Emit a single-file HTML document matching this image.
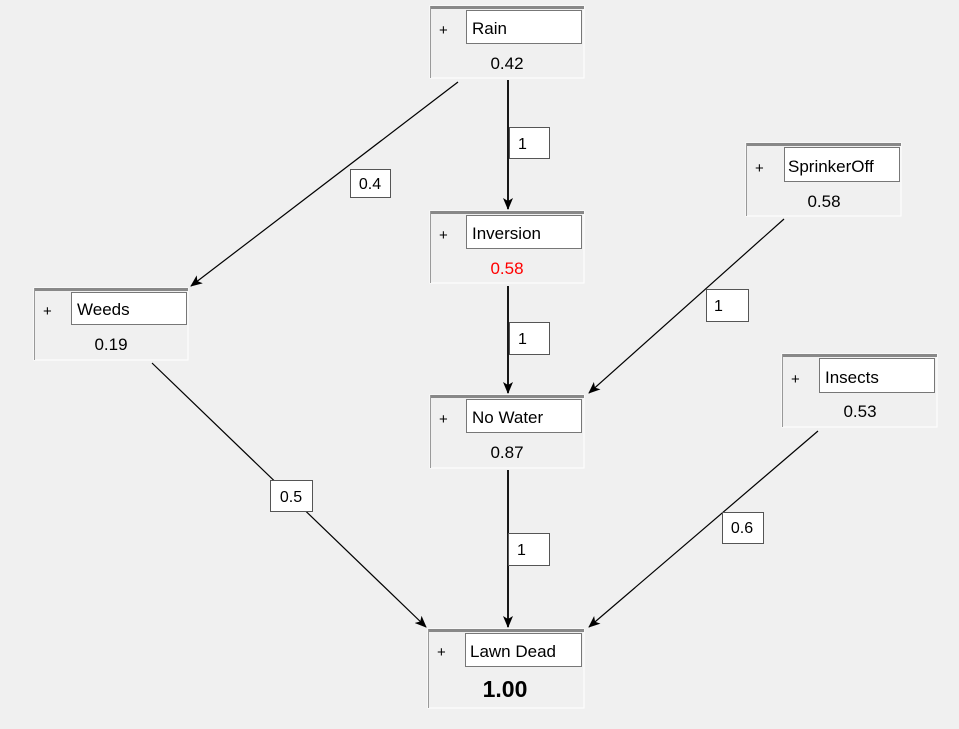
<!DOCTYPE html>
<html><head><meta charset="utf-8"><style>
html,body{margin:0;padding:0;background:#f0f0f0;}
svg{display:block;font-family:"Liberation Sans",sans-serif;}
</style></head><body>
<svg width="959" height="729" viewBox="0 0 959 729" xmlns="http://www.w3.org/2000/svg">
<defs>
<marker id="a" markerWidth="12" markerHeight="10" refX="11" refY="5" orient="auto" markerUnits="userSpaceOnUse">
<path d="M0,0 L12,5 L0,10 L3,5 Z" fill="#000"/>
</marker>
</defs>
<rect width="959" height="729" fill="#f0f0f0"/>
<g stroke="#000" stroke-width="1.2" fill="none" marker-end="url(#a)">
<line x1="458" y1="82" x2="191" y2="286"/>
<line x1="508" y1="80" x2="508" y2="209" stroke-width="1.8"/>
<line x1="508" y1="286" x2="508" y2="393" stroke-width="1.8"/>
<line x1="784" y1="219" x2="589" y2="393"/>
<line x1="152" y1="363" x2="426" y2="627"/>
<line x1="508" y1="470" x2="508" y2="627" stroke-width="1.8"/>
<line x1="818" y1="431" x2="589" y2="627"/>
</g>
<g font-size="16" fill="#000">
<rect x="350.5" y="169.5" width="40" height="28" fill="#fff" stroke="#555"/><text x="370" y="189" text-anchor="middle">0.4</text>
<rect x="509.5" y="127.5" width="40" height="31" fill="#fff" stroke="#555"/><text x="518" y="149">1</text>
<rect x="509.5" y="322.5" width="40" height="32" fill="#fff" stroke="#555"/><text x="518" y="344">1</text>
<rect x="706.5" y="289.5" width="42" height="32" fill="#fff" stroke="#555"/><text x="714" y="311">1</text>
<rect x="270.5" y="480.5" width="42" height="31" fill="#fff" stroke="#555"/><text x="291" y="502" text-anchor="middle">0.5</text>
<rect x="508.5" y="533.5" width="41" height="32" fill="#fff" stroke="#555"/><text x="517" y="555">1</text>
<rect x="722.5" y="512.5" width="41" height="31" fill="#fff" stroke="#555"/><text x="742" y="533" text-anchor="middle">0.6</text>
</g>
<g font-size="17">
<!-- node template -->
<g transform="translate(430,6)">
<rect x="0" y="0" width="154" height="72" fill="#f0f0f0" stroke="#fff"/>
<line x1="0" y1="1.5" x2="154" y2="1.5" stroke="#888" stroke-width="3"/>
<line x1="0.5" y1="0" x2="0.5" y2="72" stroke="#999"/>
<text x="9" y="29" font-size="15">+</text>
<rect x="36.5" y="4.5" width="115" height="33" fill="#fff" stroke="#777"/>
<text x="42" y="28">Rain</text>
<text x="77" y="63" text-anchor="middle">0.42</text>
</g>
<g transform="translate(430,211)">
<rect x="0" y="0" width="154" height="72" fill="#f0f0f0" stroke="#fff"/>
<line x1="0" y1="1.5" x2="154" y2="1.5" stroke="#888" stroke-width="3"/>
<line x1="0.5" y1="0" x2="0.5" y2="72" stroke="#999"/>
<text x="9" y="29" font-size="15">+</text>
<rect x="36.5" y="4.5" width="115" height="33" fill="#fff" stroke="#777"/>
<text x="42" y="28">Inversion</text>
<text x="77" y="63" text-anchor="middle" fill="#f00">0.58</text>
</g>
<g transform="translate(430,395)">
<rect x="0" y="0" width="154" height="73" fill="#f0f0f0" stroke="#fff"/>
<line x1="0" y1="1.5" x2="154" y2="1.5" stroke="#888" stroke-width="3"/>
<line x1="0.5" y1="0" x2="0.5" y2="73" stroke="#999"/>
<text x="9" y="29" font-size="15">+</text>
<rect x="36.5" y="4.5" width="115" height="33" fill="#fff" stroke="#777"/>
<text x="42" y="28">No Water</text>
<text x="77" y="63" text-anchor="middle">0.87</text>
</g>
<g transform="translate(34,288)">
<rect x="0" y="0" width="154" height="72" fill="#f0f0f0" stroke="#fff"/>
<line x1="0" y1="1.5" x2="154" y2="1.5" stroke="#888" stroke-width="3"/>
<line x1="0.5" y1="0" x2="0.5" y2="72" stroke="#999"/>
<text x="9" y="28" font-size="15">+</text>
<rect x="37.5" y="4.5" width="115" height="32" fill="#fff" stroke="#777"/>
<text x="43" y="27">Weeds</text>
<text x="77" y="62" text-anchor="middle">0.19</text>
</g>
<g transform="translate(746,143)">
<rect x="0" y="0" width="155" height="73" fill="#f0f0f0" stroke="#fff"/>
<line x1="0" y1="1.5" x2="155" y2="1.5" stroke="#888" stroke-width="3"/>
<line x1="0.5" y1="0" x2="0.5" y2="73" stroke="#999"/>
<text x="9" y="30" font-size="15">+</text>
<rect x="38.5" y="4.5" width="115" height="34" fill="#fff" stroke="#777"/>
<text x="42" y="29">SprinkerOff</text>
<text x="78" y="64" text-anchor="middle">0.58</text>
</g>
<g transform="translate(782,354)">
<rect x="0" y="0" width="155" height="73" fill="#f0f0f0" stroke="#fff"/>
<line x1="0" y1="1.5" x2="155" y2="1.5" stroke="#888" stroke-width="3"/>
<line x1="0.5" y1="0" x2="0.5" y2="73" stroke="#999"/>
<text x="9" y="30" font-size="15">+</text>
<rect x="37.5" y="4.5" width="115" height="34" fill="#fff" stroke="#777"/>
<text x="43" y="29">Insects</text>
<text x="78" y="63" text-anchor="middle">0.53</text>
</g>
<g transform="translate(428,629)">
<rect x="0" y="0" width="156" height="79" fill="#f0f0f0" stroke="#fff"/>
<line x1="0" y1="1.5" x2="156" y2="1.5" stroke="#888" stroke-width="3"/>
<line x1="0.5" y1="0" x2="0.5" y2="79" stroke="#999"/>
<text x="9" y="28" font-size="15">+</text>
<rect x="37.5" y="4.5" width="116" height="33" fill="#fff" stroke="#777"/>
<text x="42" y="28">Lawn Dead</text>
<text x="77" y="68" text-anchor="middle" font-size="23" font-weight="bold">1.00</text>
</g>
</g>
</svg>
</body></html>
